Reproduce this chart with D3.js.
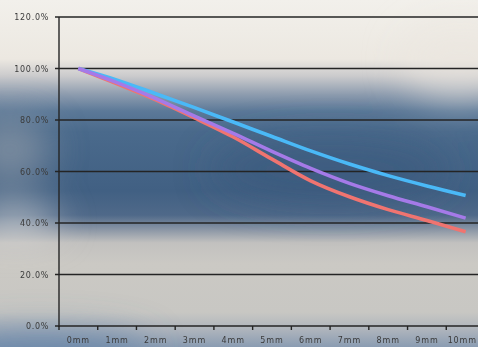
<!DOCTYPE html>
<html><head><meta charset="utf-8">
<script src="https://cdn.jsdelivr.net/npm/d3@7/dist/d3.min.js"></script>
<style>html,body{margin:0;padding:0;overflow:hidden;background:#fff}</style>
</head><body>
<svg id="c" width="478" height="347"></svg>
<script>
const categories = ["0mm","1mm","2mm","3mm","4mm","5mm","6mm","7mm","8mm","9mm","10mm"];
const seriesRed    = [100, 94.0, 87.8, 80.8, 73.4, 64.8, 56.4, 50.2, 45.2, 41.0, 36.6];
const seriesPurple = [100, 94.5, 88.3, 81.5, 74.8, 67.8, 61.2, 55.4, 50.6, 46.3, 41.9];
const seriesBlue   = [100, 95.5, 90.2, 84.8, 79.2, 73.6, 68.0, 62.9, 58.4, 54.4, 50.7];
const yTicks = [0, 20, 40, 60, 80, 100, 120];
const colors = {red:"#f07470", purple:"#a57ae8", blue:"#4ab9f7"};

const W = 478, H = 347;
const svg = d3.select("#c");
const defs = svg.append("defs");

// background gradient
const g = defs.append("linearGradient").attr("id","bg").attr("x1",0).attr("y1",0).attr("x2",0).attr("y2",1);
[[0,"#f2f0eb"],[0.17,"#ece8e1"],[0.22,"#cacacc"],[0.27,"#909eb0"],[0.32,"#5c7998"],[0.38,"#4a6a8c"],[0.55,"#416083"],[0.62,"#4f6989"],[0.66,"#8894a4"],[0.70,"#c2c1bf"],[0.76,"#cbc9c4"],[0.90,"#c8c7c3"],[0.95,"#aeb4bc"],[1,"#8a9cb2"]]
  .forEach(([o,c])=>g.append("stop").attr("offset",o).attr("stop-color",c));
svg.append("rect").attr("width",W).attr("height",H).attr("fill","url(#bg)");

defs.append("filter").attr("id","blur").attr("x","-50%").attr("y","-50%").attr("width","200%").attr("height","200%")
  .append("feGaussianBlur").attr("stdDeviation",18);
const blobs = svg.append("g").attr("filter","url(#blur)");
blobs.append("ellipse").attr("cx",10).attr("cy",150).attr("rx",40).attr("ry",35).attr("fill","#8d99a6").attr("opacity",0.7);
blobs.append("ellipse").attr("cx",15).attr("cy",222).attr("rx",45).attr("ry",14).attr("fill","#e4e2de").attr("opacity",0.8);
blobs.append("ellipse").attr("cx",40).attr("cy",350).attr("rx",110).attr("ry",18).attr("fill","#5f7fa6").attr("opacity",0.8);
blobs.append("ellipse").attr("cx",330).attr("cy",170).attr("rx",120).attr("ry",35).attr("fill","#35577a").attr("opacity",0.5);
blobs.append("ellipse").attr("cx",460).attr("cy",60).attr("rx",60).attr("ry",40).attr("fill","#ebe6e0").attr("opacity",0.6);

const x = d3.scaleBand().domain(categories).range([59, 485]);
const y = d3.scaleLinear().domain([0,120]).range([326, 17]);

// gridlines
svg.append("g").selectAll("line").data(yTicks).join("line")
  .attr("x1",55).attr("x2",W).attr("y1",d=>y(d)).attr("y2",d=>y(d))
  .attr("stroke","#242424").attr("stroke-width",1.4);
// y axis line
svg.append("line").attr("x1",59).attr("x2",59).attr("y1",y(120)).attr("y2",y(0)+1)
  .attr("stroke","#242424").attr("stroke-width",1.4);

// y labels
svg.append("g").selectAll("text").data(yTicks).join("text")
  .attr("x",49).attr("y",d=>y(d)+3).attr("text-anchor","end")
  .attr("font-family","DejaVu Sans").attr("font-size",8).attr("letter-spacing",0.7)
  .attr("fill","#3a3a3a").text(d=>d.toFixed(1)+"%");

// x ticks at band boundaries
const bounds = categories.map(c=>x(c));
svg.append("g").selectAll("line").data(bounds).join("line")
  .attr("x1",d=>d).attr("x2",d=>d).attr("y1",326).attr("y2",330)
  .attr("stroke","#242424").attr("stroke-width",1.4);
svg.append("g").selectAll("text").data(categories).join("text")
  .attr("x",d=>x(d)+x.bandwidth()/2).attr("y",343).attr("text-anchor","middle")
  .attr("font-family","DejaVu Sans").attr("font-size",8).attr("letter-spacing",0.9)
  .attr("fill","#3a3a3a").text(d=>d)
  .each(function(){
    const b = this.getBBox();
    if (b.x + b.width > W - 1) d3.select(this).attr("x", +d3.select(this).attr("x") - (b.x + b.width - (W - 1)));
  });

const line = d3.line().x((d,i)=>x(categories[i])+x.bandwidth()/2).y(d=>y(d)).curve(d3.curveMonotoneX);
[[seriesRed,colors.red],[seriesBlue,colors.blue],[seriesPurple,colors.purple]].forEach(([s,c])=>{
  svg.append("path").datum(s).attr("d",line).attr("fill","none").attr("stroke",c).attr("stroke-width",3.6);
});
</script>
</body></html>
